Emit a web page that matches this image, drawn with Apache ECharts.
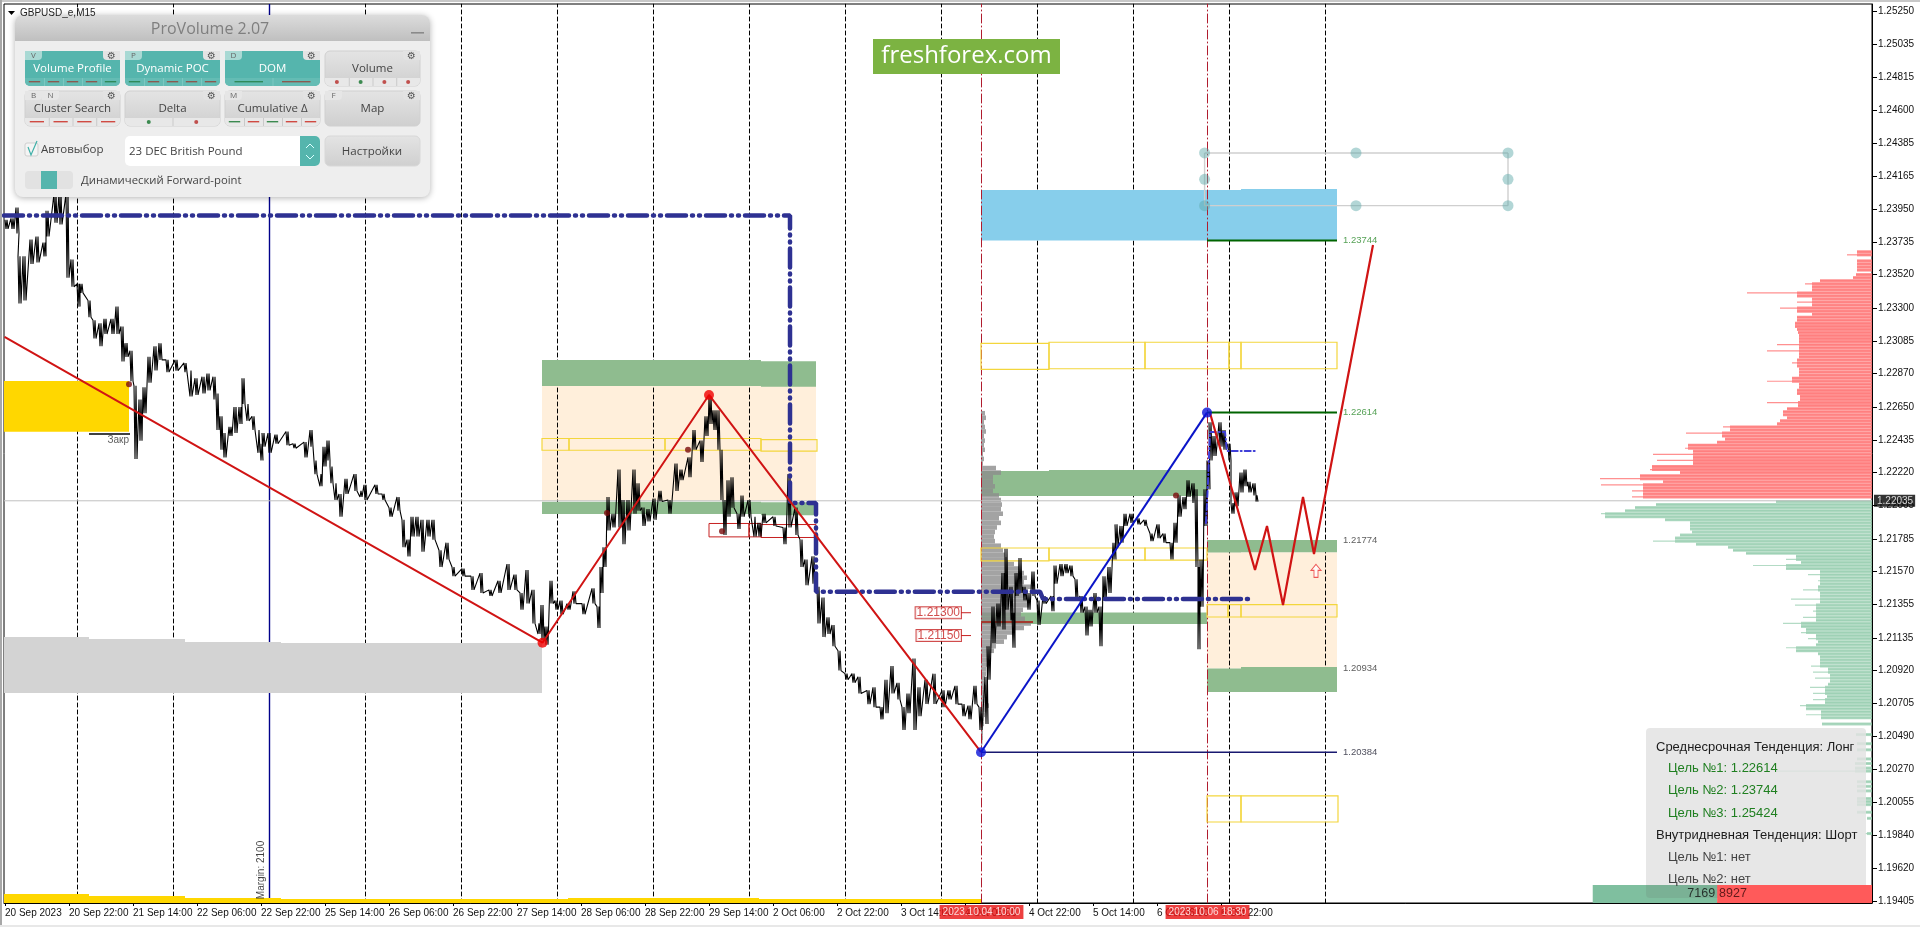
<!DOCTYPE html>
<html><head><meta charset="utf-8"><title>GBPUSD</title>
<style>html,body{margin:0;padding:0;background:#fff}#c{width:1920px;height:927px}</style>
<script src="https://cdn.jsdelivr.net/npm/echarts@6/dist/echarts.min.js"></script></head>
<body><div id="c"></div>
<script>
// Axis scale
const priceMin = 1.19394, priceMax = 1.25297, barMax = 1868;
const yTicks = [1.25250,1.25035,1.24815,1.24600,1.24385,1.24165,1.23950,1.23735,1.23520,1.23300,1.23085,1.22870,1.22650,1.22435,1.22220,1.22005,1.21785,1.21570,1.21355,1.21135,1.20920,1.20705,1.20490,1.20270,1.20055,1.19840,1.19620,1.19405];
const xTickBars = [1,65,129,193,257,321,385,449,513,577,641,705,769,833,897,961,1025,1089,1153,1217];
const xTickLabels = ['20 Sep 2023','20 Sep 22:00','21 Sep 14:00','22 Sep 06:00','22 Sep 22:00','25 Sep 14:00','26 Sep 06:00','26 Sep 22:00','27 Sep 14:00','28 Sep 06:00','28 Sep 22:00','29 Sep 14:00','2 Oct 06:00','2 Oct 22:00','3 Oct 14:00','4 Oct 06:00','4 Oct 22:00','5 Oct 14:00','6 Oct 06:00','6 Oct 22:00'];
const dayBars = [73.5,169.5,361.5,457.5,553.5,649.5,745.5,841.5,937.5,1033.5,1129.5,1225.5,1321.5];
const marginBar = [265.5];
const sessionBars = [977.5,1203.5];
const sessionLabels = ['2023.10.04 10:00','2023.10.06 18:30'];
const lastPrice = 1.22035;

// Price swings: [bar, high, low]
const priceSep = [[1,1.2388,1.2382],[7,1.2389,1.2382],[12,1.2396,1.2379],[14,1.2364,1.2333],[19,1.2364,1.2335],[26,1.2375,1.2359],[32,1.2377,1.2360],[39,1.2373,1.2364],[42,1.2394,1.2377],[50,1.2405,1.2386],[55,1.2405,1.2385],[62,1.2405,1.2350],[67,1.2362,1.2344],[73,1.2346,1.2331],[76,1.2346,1.2340],[84,1.2335,1.2324],[89,1.2322,1.2310],[95,1.2320,1.2305],[100,1.2323,1.2313],[107,1.2323,1.2313],[112,1.2331,1.2313],[117,1.2318,1.2295],[121,1.2307,1.2298],[126,1.2302,1.2282],[130,1.2279,1.2231],[135,1.2270,1.2243],[139,1.2278,1.2261],[144,1.2298,1.2281],[150,1.2305,1.2289],[155,1.2307,1.2296],[162,1.2296,1.2288],[171,1.2296,1.2289],[180,1.2294,1.2288],[185,1.2289,1.2272],[191,1.2284,1.2273],[198,1.2285,1.2274],[203,1.2287,1.2276],[209,1.2285,1.2270],[212,1.2274,1.2250],[216,1.2259,1.2237],[219,1.2248,1.2232],[225,1.2252,1.2246],[230,1.2265,1.2248],[235,1.2265,1.2254],[238,1.2284,1.2267],[242,1.2267,1.2256],[248,1.2259,1.2250],[253,1.2250,1.2235],[256,1.2241,1.2230],[258,1.2248,1.2239],[264,1.2248,1.2235],[271,1.2247,1.2241],[282,1.2249,1.2240],[289,1.2241,1.2238],[300,1.2242,1.2232],[306,1.2250,1.2239],[310,1.2230,1.2221],[315,1.2221,1.2213],[319,1.2239,1.2226],[323,1.2243,1.2230],[326,1.2226,1.2215],[330,1.2215,1.2204],[335,1.2208,1.2193],[341,1.2218,1.2208],[350,1.2221,1.2210],[355,1.2210,1.2206],[360,1.2214,1.2204],[371,1.2214,1.2208],[378,1.2208,1.2204],[385,1.2199,1.2193],[393,1.2206,1.2197],[398,1.2191,1.2173],[403,1.2178,1.2167],[407,1.2193,1.2180],[412,1.2193,1.2180],[417,1.2191,1.2170],[423,1.2191,1.2180],[428,1.2191,1.2178],[435,1.2171,1.2160],[442,1.2176,1.2165],[448,1.2160,1.2154],[458,1.2159,1.2154],[467,1.2154,1.2145],[476,1.2156,1.2143],[485,1.2145,1.2141],[494,1.2151,1.2143],[503,1.2162,1.2145],[510,1.2155,1.2145],[516,1.2143,1.2132],[522,1.2158,1.2136],[528,1.2145,1.2123],[533,1.2123,1.2116],[537,1.2135,1.2112],[541,1.2121,1.2109],[546,1.2151,1.2136],[551,1.2138,1.2132]];
const priceLateSep = [[556,1.2138,1.2129],[563,1.2136,1.2132],[569,1.2144,1.2136],[578,1.2136,1.2129],[588,1.2146,1.2136],[593,1.2134,1.2120],[596,1.2160,1.2143],[599,1.2173,1.2160],[603,1.2206,1.2184],[608,1.2195,1.2186],[614,1.2224,1.2186],[618,1.2204,1.2175],[623,1.2204,1.2184],[629,1.2224,1.2195],[633,1.2215,1.2197],[638,1.2199,1.2187],[643,1.2198,1.2190],[649,1.2205,1.2191],[655,1.2210,1.2203],[664,1.2204,1.2195],[671,1.2228,1.2210],[676,1.2224,1.2217],[684,1.2232,1.2219],[689,1.2250,1.2237],[696,1.2243,1.2229],[701,1.2259,1.2246],[705,1.2272,1.2254],[709,1.2263,1.2250],[713,1.2263,1.2237],[716,1.2237,1.2204],[719,1.2204,1.2181],[723,1.2217,1.2193],[727,1.2219,1.2199],[733,1.2195,1.2185],[737,1.2207,1.2193],[744,1.2204,1.2193],[749,1.2193,1.2180],[754,1.2189,1.2180],[759,1.2195,1.2189],[769,1.2193,1.2187],[779,1.2186,1.2175],[784,1.2221,1.2186],[791,1.2199,1.2181],[796,1.2178,1.2160],[801,1.2165,1.2148],[808,1.2167,1.2149],[813,1.2147,1.2123],[818,1.2140,1.2114],[823,1.2127,1.2116],[828,1.2122,1.2108],[834,1.2105,1.2092],[841,1.2090,1.2086],[848,1.2090,1.2084],[854,1.2088,1.2077],[863,1.2079,1.2070],[869,1.2081,1.2068],[876,1.2068,1.2060],[881,1.2086,1.2064],[887,1.2095,1.2077],[893,1.2084,1.2073],[898,1.2068,1.2053],[903,1.2077,1.2064],[909,1.2100,1.2053],[914,1.2081,1.2062],[921,1.2086,1.2070],[929,1.2090,1.2070],[938,1.2079,1.2068],[944,1.2079,1.2073],[951,1.2082,1.2070],[958,1.2070,1.2062],[964,1.2069,1.2060],[970,1.2082,1.2070],[975,1.2068,1.2053],[981,1.2088,1.2057]];
const priceOct = [[983,1.2108,1.2086],[988,1.2134,1.2110],[993,1.2136,1.2121],[998,1.2156,1.2119],[1001,1.2172,1.2132],[1006,1.2147,1.2125],[1008,1.2130,1.2107],[1011,1.2156,1.2141],[1015,1.2166,1.2143],[1019,1.2147,1.2138],[1023,1.2143,1.2132],[1028,1.2157,1.2141],[1033,1.2138,1.2122],[1039,1.2141,1.2136],[1047,1.2141,1.2131],[1050,1.2161,1.2149],[1056,1.2162,1.2154],[1061,1.2162,1.2156],[1066,1.2161,1.2154],[1071,1.2152,1.2138],[1076,1.2141,1.2130],[1081,1.2134,1.2115],[1085,1.2132,1.2121],[1090,1.2143,1.2130],[1095,1.2134,1.2108],[1099,1.2154,1.2138],[1104,1.2160,1.2143],[1109,1.2176,1.2165],[1111,1.2188,1.2173],[1116,1.2187,1.2176],[1120,1.2195,1.2187],[1126,1.2195,1.2189],[1133,1.2192,1.2188],[1140,1.2191,1.2187],[1146,1.2182,1.2177],[1153,1.2188,1.2179],[1159,1.2182,1.2176],[1166,1.2176,1.2165],[1170,1.2189,1.2176],[1174,1.2207,1.2193],[1179,1.2206,1.2198],[1183,1.2217,1.2206],[1188,1.2215,1.2202],[1191,1.2211,1.2160],[1193,1.2160,1.2106],[1196,1.2165,1.2134],[1200,1.2211,1.2187],[1203,1.2230,1.2211],[1205,1.2255,1.2230],[1209,1.2246,1.2233],[1215,1.2255,1.2239],[1219,1.2250,1.2237],[1224,1.2241,1.2230],[1227,1.2202,1.2195],[1231,1.2209,1.2200],[1236,1.2222,1.2209],[1240,1.2224,1.2213],[1244,1.2216,1.2209],[1249,1.2215,1.2207],[1251,1.2207,1.2203]];

// Zones: [barStart, barEnd, priceTop, priceBottom]
const greyZones = [[0,85,1.21141,1.20773],[85,181,1.21128,1.20773],[181,277,1.21108,1.20773],[277,538,1.21101,1.20773]];
const goldZones = [[0,125,1.22821,1.22488],[0,85,1.19453,priceMin],[85,181,1.19440,priceMin],[181,277,1.19427,priceMin],[277,564,1.19420,priceMin],[564,755,1.19427,priceMin],[755,977,1.19420,priceMin]];
const peachZones = [[538,812,1.22788,1.22035],[1203,1333,1.21697,1.20934]];
const greenZones = [[538,757,1.22959,1.22788],[757,812,1.22952,1.22783],[538,757,1.22028,1.21949],[757,812,1.22025,1.21940],[977,1045,1.22231,1.22067],[1045,1203,1.22237,1.22067],[977,1203,1.21302,1.21226],[1203,1237,1.21778,1.21695],[1237,1333,1.21778,1.21697],[1203,1237,1.20934,1.20780],[1237,1333,1.20944,1.20780]];
const skyZones = [[977,1237,1.24076,1.23744],[1237,1333,1.24082,1.23744]];
const yellowBoxes = [[538,565,1.22444,1.22367],[565,661,1.22444,1.22367],[661,757,1.22444,1.22367],[757,813,1.22437,1.22361],[977,1045,1.23069,1.22898],[1045,1141,1.23076,1.22902],[1141,1225,1.23076,1.22902],[1225,1237,1.23076,1.22902],[1237,1333,1.23076,1.22902],[977,1045,1.21725,1.21640],[1045,1141,1.21725,1.21646],[1141,1203,1.21725,1.21646],[1203,1224,1.21353,1.21272],[1224,1237,1.21353,1.21272],[1237,1333,1.21353,1.21272],[1203,1237,1.20097,1.19926],[1237,1334,1.20097,1.19926]];
const redBoxes = [[705,745,1.21886,1.21798],[745,757,1.21886,1.21798],[757,812,1.21879,1.21794]];

// Volume profile anchored at the first session line: price, length in bars
const profilePrices = [1.2261,1.2258,1.2255,1.2252,1.2249,1.2246,1.2243,1.2240,1.2237,1.2234,1.2231,1.2228,1.2225,1.2222,1.2219,1.2216,1.2213,1.2210,1.2207,1.2204,1.2201,1.2198,1.2195,1.2192,1.2189,1.2186,1.2183,1.2180,1.2177,1.2174,1.2171,1.2168,1.2165,1.2162,1.2159,1.2156,1.2153,1.2150,1.2147,1.2144,1.2141,1.2138,1.2135,1.2132,1.2129,1.2126,1.2123,1.2120,1.2117,1.2114,1.2111,1.2108,1.2105,1.2102,1.2099,1.2096,1.2093,1.2090,1.2087,1.2084,1.2081,1.2078,1.2075,1.2072,1.2069,1.2066,1.2063,1.2060,1.2057,1.2054,1.2051,1.2048,1.2045,1.2042];
const profileLens = [4,5,3,4,5,3,4,3,4,2,3,2,15,20,12,12,14,12,18,20,21,20,22,18,20,16,14,13,14,20,22,24,26,33,38,43,46,43,52,47,43,46,48,42,40,44,50,43,33,26,23,15,13,9,8,6,5,5,4,3,5,4,5,4,8,5,4,3,3,2,2,2,1.5,1];

// Depth of market on the right: price, length in bars
const askPrices = [1.2367,1.2365,1.2361,1.2359,1.2357,1.2355,1.2352,1.2350,1.2348,1.2346,1.2344,1.2342,1.2340,1.2338,1.2336,1.2334,1.2332,1.2330,1.2328,1.2326,1.2324,1.2322,1.2320,1.2318,1.2316,1.2314,1.2312,1.2310,1.2308,1.2306,1.2304,1.2302,1.2300,1.2298,1.2296,1.2294,1.2292,1.2290,1.2288,1.2286,1.2284,1.2282,1.2280,1.2278,1.2276,1.2274,1.2272,1.2270,1.2268,1.2266,1.2264,1.2262,1.2260,1.2258,1.2256,1.2254,1.2252,1.2250,1.2248,1.2246,1.2244,1.2242,1.2240,1.2238,1.2236,1.2234,1.2232,1.2230,1.2228,1.2226,1.2224,1.2222,1.2220,1.2218,1.2216,1.2214,1.2212,1.2210,1.2208,1.2206];
const askLens = [15,25,15,15,15,15,16,19,52,67,60,60,125,75,60,75,60,92,75,60,75,75,77,77,75,74,73,73,73,95,73,105,73,73,75,80,75,73,73,73,80,105,73,73,75,75,72,72,105,74,85,89,89,85,92,95,149,142,186,150,147,155,184,187,179,219,179,215,179,220,222,192,232,272,209,271,229,240,229,240];
const bidPrices = [1.2203,1.2201,1.2199,1.2197,1.2195,1.2193,1.2191,1.2189,1.2187,1.2185,1.2183,1.2181,1.2179,1.2177,1.2175,1.2173,1.2171,1.2169,1.2167,1.2165,1.2163,1.2161,1.2159,1.2157,1.2155,1.2153,1.2151,1.2149,1.2147,1.2145,1.2143,1.2141,1.2139,1.2137,1.2135,1.2133,1.2131,1.2129,1.2127,1.2125,1.2123,1.2121,1.2119,1.2117,1.2115,1.2113,1.2111,1.2109,1.2107,1.2105,1.2103,1.2101,1.2099,1.2097,1.2095,1.2093,1.2091,1.2089,1.2087,1.2085,1.2083,1.2081,1.2079,1.2077,1.2075,1.2073,1.2071,1.2069,1.2067,1.2065,1.2063,1.2061,1.2057,1.2050,1.2044,1.2040,1.2034,1.2031,1.2028,1.2026,1.2019,1.2016,1.2013,1.2008,1.2006,1.2004,1.1999,1.1995,1.1985];
const bidLens = [96,216,237,247,271,267,207,182,182,182,180,192,197,219,176,144,139,126,76,86,71,119,86,52,64,52,54,52,54,69,52,52,81,52,77,56,59,56,69,56,89,71,66,71,56,64,54,56,86,76,54,52,52,52,61,44,59,42,57,42,44,62,47,59,45,59,47,72,66,51,66,51,50,16,15,15,15,17,17,95,15,15,15,15,15,15,15,5,7];
const buyVolume = 7169, sellVolume = 8927;
const volumeBarTop = 1.19512;
const barsPerVolume = 0.01735;

// Paths: [bar, price]
const structureLine = [[0,1.23908],[786,1.23908],[786,1.22020],[812,1.22020],[812,1.21438],[1036,1.21438],[1039,1.21390],[1249,1.21390]];
const intradayLine = [[1202,1.21889],[1204,1.22158],[1206,1.22487],[1221,1.22487],[1223,1.22362],[1251,1.22362]];
const redWave = [[0.5,1.23112],[538.5,1.21103],[705,1.22730],[977,1.20384]];
const blueWave = [[977,1.20384],[1203,1.22614]];
const forecast = [[1206,1.22611],[1251,1.21581],[1263,1.21870],[1279,1.21351],[1299,1.22060],[1310,1.21686],[1369,1.23715]];
const target1 = [[1203,1.22614],[1333,1.22614]];
const target2 = [[1203,1.23744],[1333,1.23744]];
const base = [[977,1.20384],[1333,1.20384]];
const pocLine = [[977,1.21239],[1029,1.21239]];
const closeLine = [[85,1.22474],[126,1.22474]];
const redPivots = [[538.5,1.21103],[705,1.22730]];
const bluePivots = [[977,1.20384],[1203,1.22614]];
const minorPivots = [[125,1.22800],[603,1.21955],[684,1.22370],[718,1.21835],[1172,1.22070]];
const arrowPoint = [[1312,1.21575]];
const selLines = [[[1200.6,1.24319],[1504,1.24319]],[[1200.6,1.23973],[1504,1.23973]],[[1200.6,1.24319],[1200.6,1.23973]],[[1504,1.24319],[1504,1.23973]]];
const selHandles = [[1200.6,1.24319],[1352,1.24319],[1504,1.24319],[1200.6,1.24146],[1504,1.24146],[1200.6,1.23973],[1352,1.23973],[1504,1.23973]];
const levelLabels = [[1336,1.23744,'1.23744','#2a8a2a'],[1336,1.22614,'1.22614','#2a8a2a'],[1336,1.21774,'1.21774','#333'],[1336,1.20934,'1.20934','#333'],[1336,1.20384,'1.20384','#223']];
const tagLevels = [[957,1.21300,'1.21300'],[957,1.21150,'1.21150']];
const tagStems = [[[957,1.21300],[967,1.21300]],[[957,1.21150],[967,1.21150]]];

const PAL = {green:'#8fbc8f',sky:'#87ceeb',peach:'#ffefdb',grey:'#d3d3d3',gold:'#ffd700',yellow:'#f3d63c',red:'#d01414',box:'#c62020',navy:'#2e3192'};
const UI = 'Liberation Sans, Arial, sans-serif';

function rects(data, style, z){
  return {type:'custom',coordinateSystem:'cartesian2d',data,encode:{x:[0,1],y:[2,3]},silent:true,z,animation:false,
    renderItem:(p,api)=>{const a=api.coord([api.value(0),api.value(2)]),b=api.coord([api.value(1),api.value(3)]);
      return {type:'rect',shape:{x:a[0],y:a[1],width:b[0]-a[0],height:b[1]-a[1]},style};}};
}
function line(data,color,width,z,dash){
  return {type:'line',data,showSymbol:false,symbol:'none',silent:true,z,animation:false,connectNulls:false,
    lineStyle:{color,width,type:dash||'solid',cap:dash?'round':'butt'}};
}
function verticals(bars){const o=[];bars.forEach(b=>{o.push([b,priceMin],[b,priceMax],[null,null]);});return o;}
function dots(data,color,size,z,extra){
  return Object.assign({type:'scatter',data,symbolSize:size,silent:true,z,animation:false,itemStyle:{color}},extra||{});
}
// each swing is inked as a tight high/low zigzag so the M15 trace keeps its density
const pricePath = [];
priceSep.concat(priceLateSep,priceOct).forEach(r=>{
  pricePath.push([r[0],r[1]],[r[0]+1,r[2]],[r[0]+2,r[1]],[r[0]+3,r[2]]);
});
const h1=0.00030,h2=0.00020,hThin=0.00008;
const profileData = profilePrices.map((p,i)=>[977,977+profileLens[i],p+h1/2,p-h1/2]);
// a row sticking out past both neighbours is a thin spike over the solid body
function depthRows(prices,lens){
  const body=[],spike=[];
  prices.forEach((p,i)=>{
    const nb=Math.max(i?lens[i-1]:0,i<lens.length-1?lens[i+1]:0);
    const solid=Math.min(lens[i],nb);
    body.push([barMax-solid,barMax,p+h2/2,p-h2/2]);
    spike.push([barMax-lens[i],barMax,p+hThin/2,p-hThin/2]);
  });
  return {body,spike};
}
const ask=depthRows(askPrices,askLens), bid=depthRows(bidPrices,bidLens);
const buyBar = [[barMax-barsPerVolume*sellVolume-barsPerVolume*buyVolume,barMax-barsPerVolume*sellVolume,volumeBarTop,priceMin]];
const sellBar = [[barMax-barsPerVolume*sellVolume,barMax,volumeBarTop,priceMin]];

const series = [
  rects(peachZones,{fill:PAL.peach},1),
  line(verticals(dayBars),'#000',1,2,[4,3]),
  line(verticals(marginBar),'#00008b',1.4,2),
  rects(greyZones,{fill:PAL.grey},3),
  rects(goldZones,{fill:PAL.gold},3),
  rects(greenZones,{fill:PAL.green},3),
  rects(skyZones,{fill:PAL.sky},3),
  line(verticals(sessionBars),'#b01c2e',1,4,[9,3,1,3]),
  line([[0,lastPrice],[barMax,lastPrice]],'#c0c0c0',1,4),
  rects(ask.body,{fill:'rgba(255,125,125,0.85)'},4),
  rects(ask.spike,{fill:'rgba(255,125,125,0.85)'},4),
  rects(bid.body,{fill:'rgba(150,205,175,0.72)'},4),
  rects(bid.spike,{fill:'rgba(150,205,175,0.72)'},4),
  rects(profileData,{fill:'rgba(140,140,140,0.8)'},4),
  rects(yellowBoxes,{fill:'none',stroke:PAL.yellow,lineWidth:1.2},5),
  rects(redBoxes,{fill:'none',stroke:PAL.box,lineWidth:1},5),
  line(pocLine,'#a33a30',2,5),
  line(pricePath,'#000',1.1,6),
  line(closeLine,'#000',1.6,6),
  line(base,'#191970',1.6,7),
  line(target1,'#006400',2,7),
  line(target2,'#006400',2,7),
  line(structureLine,PAL.navy,4.5,8,[19,6,1,6,1,6]),
  line(intradayLine,'#3f3fd8',2,8,[6,3,1,3]),
  line(redWave,PAL.red,2,9),
  line(blueWave,'#0a14c8',2,9),
  line(forecast,PAL.red,2.2,9),
  dots(redPivots,'#f00000',10,10),
  dots(bluePivots,'#0a14d8',10,10),
  dots(minorPivots,'#7a0c0c',6,10),
  dots(arrowPoint,'#fff',[10,13],10,{symbol:'path://M5 0 L10 6 L7 6 L7 13 L3 13 L3 6 L0 6 Z',itemStyle:{color:'#fff',borderColor:'#e83030',borderWidth:1}})
];
selLines.forEach(l=>series.push(line(l,'#cfcfcf',1.4,11)));
series.push(dots(selHandles,'rgba(95,170,170,0.6)',11,12));
series.push({type:'scatter',symbolSize:0,silent:true,z:13,animation:false,data:levelLabels.map(l=>({value:[l[0],l[1]],label:{color:l[3]}})),
  label:{show:true,position:'right',distance:3,fontFamily:UI,fontSize:9.5,formatter:p=>levelLabels[p.dataIndex][2]}});
tagStems.forEach(l=>series.push(line(l,PAL.box,1,12)));
series.push({type:'scatter',symbolSize:0,silent:true,z:13,animation:false,data:tagLevels.map(l=>[l[0],l[1]]),
  label:{show:true,position:'left',distance:0,fontFamily:UI,fontSize:12,color:'#c62020',backgroundColor:'#fff',borderColor:PAL.box,borderWidth:1,padding:[0,1,0,1],lineHeight:11,formatter:p=>tagLevels[p.dataIndex][2]}});
series.push({type:'scatter',symbolSize:0,silent:true,z:13,animation:false,data:[[257,1.19611]],
  label:{show:true,position:'inside',rotate:90,fontFamily:UI,fontSize:10,color:'#111',formatter:'Margin: 2100'}});
series.push({type:'scatter',symbolSize:0,silent:true,z:13,animation:false,data:[[125,1.22430]],
  label:{show:true,position:'left',distance:0,fontFamily:UI,fontSize:10,color:'#333',formatter:'Закр'}});
series.push(rects(buyBar,{fill:'#7fbf9f'},14));
series.push(rects(sellBar,{fill:'#ff5a5a'},14));
series.push({type:'scatter',symbolSize:0,silent:true,z:40,zlevel:2,animation:false,data:[[buyBar[0][1],1.19455]],
  label:{show:true,position:'left',distance:2,fontFamily:UI,fontSize:12.5,color:'#111',formatter:String(buyVolume)}});
series.push({type:'scatter',symbolSize:0,silent:true,z:40,zlevel:2,animation:false,data:[[sellBar[0][0],1.19455]],
  label:{show:true,position:'right',distance:2,fontFamily:UI,fontSize:12.5,color:'#3a0a0a',formatter:String(sellVolume)}});
series.push({type:'scatter',symbolSize:0,silent:true,z:40,zlevel:2,animation:false,data:[[barMax,lastPrice]],
  label:{show:true,position:'right',distance:2,fontFamily:UI,fontSize:10,color:'#fff',backgroundColor:'#000',padding:[1,2,1,3],formatter:lastPrice.toFixed(5)}});
series.push({type:'scatter',symbolSize:0,silent:true,z:40,zlevel:2,animation:false,data:sessionBars.map(b=>[b,priceMin]),
  label:{show:true,position:'bottom',distance:2,fontFamily:UI,fontSize:10,color:'#fff',backgroundColor:'#e81010',padding:[2,3,2,3],formatter:p=>sessionLabels[p.dataIndex]}});

// ---- interface overlays ----
const G = [];
function box(x,y,w,h,fill,r,extra,z){G.push({type:'rect',z:z||100,zlevel:1,shape:{x,y,width:w,height:h,r:r||0},style:Object.assign({fill},extra||{})});}
function txt(x,y,t,font,fill,align,z,weight){G.push({type:'text',z:z||102,zlevel:1,x,y,style:{text:t,font:(weight?weight+' ':'')+font,fill,align:align||'left',verticalAlign:'middle'}});}
function vgrad(a,b){return {type:'linear',x:0,y:0,x2:0,y2:1,colorStops:[{offset:0,color:a},{offset:1,color:b}]};}
// window frame
box(0,0,1920,2,'#c8c8c8');box(0,0,2,927,'#a8a8a8');box(0,925,1920,2,'#e8e8e8');
// symbol caption
txt(20,13,'GBPUSD_e,M15','10px '+UI,'#222');
G.push({type:'polygon',z:100,zlevel:1,shape:{points:[[8,11],[15,11],[11.5,15]]},style:{fill:'#000'}});
// ProVolume panel
box(15,15,415,182,'#eeeeee',8,{shadowBlur:6,shadowColor:'rgba(0,0,0,0.3)',shadowOffsetY:1});
G.push({type:'rect',z:101,zlevel:1,shape:{x:15,y:15,width:415,height:26,r:[8,8,0,0]},style:{fill:vgrad('#dcdcdc','#bfbfbf')}});
txt(210,29,'ProVolume 2.07','16px "Open Sans"','#7f7f7f','center');
box(411,32,13,1.6,'#8a8a8a',0,null,102);
const GEAR='⚙';
const buttons = [
 {x:25,y:51,t:'Volume Profile',on:1,tabs:['V'],marks:['#8a5a50','#8a5a50','#8a5a50','#8a5a50','#2f8a5a'],kind:'dash'},
 {x:125,y:51,t:'Dynamic POC',on:1,tabs:['P'],marks:['#2f8a5a','#8a5a50','#8a5a50','#8a5a50','#8a5a50'],kind:'dash'},
 {x:225,y:51,t:'DOM',on:1,tabs:['D'],marks:['#2f8a5a','#8a5a50'],kind:'dash'},
 {x:325,y:51,t:'Volume',on:0,tabs:[],marks:['#c0504d','#3c8a50','#c0504d','#c0504d'],kind:'dot'},
 {x:25,y:91,t:'Cluster Search',on:0,tabs:['B','N'],marks:['#d04a42','#d04a42','#d04a42','#d04a42'],kind:'dash'},
 {x:125,y:91,t:'Delta',on:0,tabs:[],marks:['#3c8a50','#c0504d'],kind:'dot'},
 {x:225,y:91,t:'Cumulative Δ',on:0,tabs:['M'],marks:['#3c8a50','#d04a42','#3c8a50','#d04a42','#d04a42'],kind:'dash'},
 {x:325,y:91,t:'Map',on:0,tabs:['F'],marks:[],kind:'dash'}
];
buttons.forEach(b=>{
  const W=95,H=35;
  box(b.x,b.y,W,H,b.on?'#55b5ad':vgrad('#e4e4e4','#cfcfcf'),5,{stroke:'#d0d0d0',lineWidth:b.on?0:1},101);
  if(b.marks.length){
    box(b.x,b.y+27,W,8,b.on?'#64bcb4':'#e8e8e8',[0,0,5,5],null,102);
    const n=b.marks.length,sw=W/n;
    b.marks.forEach((c,i)=>{
      const cx=b.x+sw*(i+0.5);
      if(b.kind==='dash') box(cx-sw*0.3,b.y+30,sw*0.6,1.4,c,0,null,103);
      else G.push({type:'circle',z:103,zlevel:1,shape:{cx,cy:b.y+31,r:2},style:{fill:c}});
      if(i) box(b.x+sw*i,b.y+27,1,8,b.on?'#7cc8c1':'#c9c9c9',0,null,103);
    });
  }
  b.tabs.forEach((k,i)=>{
    box(b.x+i*17,b.y,17,9,b.on?'#a9d9d4':'#e6e6e6',[0,0,4,0],null,103);
    txt(b.x+8.5+i*17,b.y+5,k,'8px "Open Sans"','#666','center',104);
  });
  box(b.x+W-17,b.y,17,9,'#e3e3e3',[0,0,0,4],null,103);
  txt(b.x+W-8.5,b.y+5,GEAR,'10px "DejaVu Sans"','#555','center',104);
  txt(b.x+W/2,b.y+18,b.t,'11.5px "Open Sans"',b.on?'#ffffff':'#444','center',104);
});
box(25,143,13,13,'#f4f4f4',2,{stroke:'#cfcfcf',lineWidth:1},102);
G.push({type:'polyline',z:103,zlevel:1,shape:{points:[[28,147],[31,155],[37,141]]},style:{stroke:'#3fb0a8',lineWidth:1.2,fill:'none'}});
txt(41,150,'Автовыбор','11.5px "Open Sans"','#444');
box(125,136,195,30,'#ffffff',5,null,102);
G.push({type:'rect',z:103,zlevel:1,shape:{x:300,y:136,width:20,height:30,r:[0,5,5,0]},style:{fill:'#55b5ad'}});
G.push({type:'polyline',z:104,zlevel:1,shape:{points:[[306,148],[310,144],[314,148]]},style:{stroke:'#dff',lineWidth:1,fill:'none'}});
G.push({type:'polyline',z:104,zlevel:1,shape:{points:[[306,155],[310,159],[314,155]]},style:{stroke:'#dff',lineWidth:1,fill:'none'}});
txt(129,152,'23 DEC British Pound','11.5px "Open Sans"','#444');
box(325,136,95,30,vgrad('#e4e4e4','#cfcfcf'),5,{stroke:'#d8d8d8',lineWidth:1},102);
txt(372,152,'Настройки','11.5px "Open Sans"','#444','center',103);
box(25,171,48,18,'#e2e2e2',4,null,102);
box(41,171,16,18,'#55b5ad',0,null,103);
txt(81,181,'Динамический Forward-point','11.3px "Open Sans"','#444');
// watermark
box(873,39,187,35,'#7cb342',0);
txt(966.5,56,'freshforex.com','24px "Open Sans"','#ffffff','center');
// trend box: solid part above the volume bar, tint over the buy bar below it
G.push({type:'rect',z:20,zlevel:1,shape:{x:1646,y:728,width:220,height:157,r:[4,4,0,0]},style:{fill:'rgba(226,226,226,0.84)'}});
G.push({type:'rect',z:20,zlevel:1,shape:{x:1646,y:885,width:72,height:13,r:[0,0,0,4]},style:{fill:'rgba(90,90,90,0.14)'}});
[['Среднесрочная Тенденция: Лонг',1656,747,'#1c1c1c'],['Цель №1: 1.22614',1668,768,'#1f7f20'],['Цель №2: 1.23744',1668,790,'#1f7f20'],['Цель №3: 1.25424',1668,813,'#1f7f20'],['Внутридневная Тенденция: Шорт',1656,835,'#1c1c1c'],['Цель №1: нет',1668,857,'#444'],['Цель №2: нет',1668,879,'#444']]
 .forEach(r=>txt(r[1],r[2],r[0],'13px '+UI,r[3],'left',21));

const chart = echarts.init(document.getElementById('c'),null,{renderer:'canvas'});
chart.setOption({
  animation:false,backgroundColor:'#fff',
  grid:{left:4,right:48,top:4,bottom:24,show:true,borderColor:'#000',borderWidth:1,backgroundColor:'transparent'},
  xAxis:{type:'value',min:0,max:barMax,splitLine:{show:false},
    axisLine:{show:true,lineStyle:{color:'#000',width:1}},
    axisTick:{show:true,customValues:xTickBars,length:3,lineStyle:{color:'#000'}},
    axisLabel:{show:true,customValues:xTickBars,align:'left',margin:5,fontFamily:UI,fontSize:10,color:'#111',hideOverlap:false,showMinLabel:true,showMaxLabel:true,
      formatter:v=>{const i=xTickBars.indexOf(v);return i<0?'':xTickLabels[i];}}},
  yAxis:{type:'value',position:'right',min:priceMin,max:priceMax,splitLine:{show:false},
    axisLine:{show:true,onZero:false,lineStyle:{color:'#000',width:1}},
    axisTick:{show:true,customValues:yTicks,length:5,lineStyle:{color:'#000'}},
    axisLabel:{show:true,customValues:yTicks,margin:6,fontFamily:UI,fontSize:10,color:'#111',hideOverlap:false,formatter:v=>v.toFixed(5)}},
  graphic:{elements:G},
  series
});
</script></body></html>
